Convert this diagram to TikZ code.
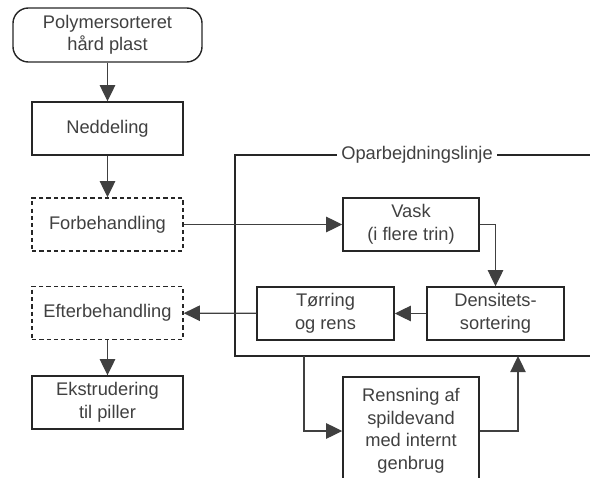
\documentclass[tikz,border=0pt]{standalone}
\usepackage{fontspec}
\setmainfont{Liberation Sans}
\usetikzlibrary{arrows.meta, positioning}
\tikzset{
->, % all connectors are directed
>={Triangle[length=11.5pt,width=11pt]}, % filled triangular heads
every node/.style={font=\fontsize{13pt}{16pt}\selectfont, text=black!75, align=center},
box/.style={draw=black!85, line width=1pt, inner sep=0pt, minimum width=3.775cm, minimum height=1.325cm}, % plain step
dbox/.style={box, dashed, dash pattern=on 3pt off 2.2pt}, % optional step
smallbox/.style={box, minimum width=3.4cm}, % steps inside the line
}

\begin{document}
\begin{tikzpicture}[x=0.025cm, y=-0.025cm, line width=0.9pt, draw=black!75]
      \useasboundingbox (0,0) rectangle (590,478);
      % left column
      \node[box, rounded corners=11pt, minimum width=4.725cm, minimum height=1.35cm] (poly) at (107.5,35) {Polymersorteret\\hård plast};
      \node[box] (nedd) at (107.5,128.5) {Neddeling};
      \node[dbox] (forb) at (107.5,224.5) {Forbehandling};
      \node[dbox] (efter) at (107.5,313) {Efterbehandling};
      \node[box] (ekst) at (107.5,402.5) {Ekstrudering\\til piller};
      % processing line
      \coordinate (ftop) at (600,155);
      \coordinate (fnw) at (235,155);
      \coordinate (fsw) at (235,356);
      \coordinate (fbot) at (600,356);
      \draw[-, draw=black!85, line width=1pt] (ftop) -- (fnw) -- (fsw) -- (fbot);
      \node[fill=white, inner sep=3pt] (line) at (417,155) {Oparbejdningslinje};
      \node[smallbox] (vask) at (411,224.5) {Vask\\(i flere trin)};
      \node[box, minimum width=3.425cm] (torr) at (325.5,313.5) {Tørring\\og rens};
      \node[box, minimum width=3.425cm] (dens) at (495.5,313.5) {Densitets-\\sortering};
      \node[smallbox, minimum height=2.7cm] (rens) at (411,431) {Rensning af\\spildevand\\med internt\\genbrug};
      \coordinate (out) at (304,356);
      \coordinate (in) at (518,356);
      \draw (poly) edge (nedd)
      (nedd) edge (forb)
      (forb) edge (vask)
      (dens) edge (torr)
      (torr) edge (efter)
      (efter) edge (ekst);
      \draw (vask.east) -| (dens.north);
      \draw (out) |- (rens.west);
      \draw (rens.east) -| (in);
    \end{tikzpicture}
\end{document}
